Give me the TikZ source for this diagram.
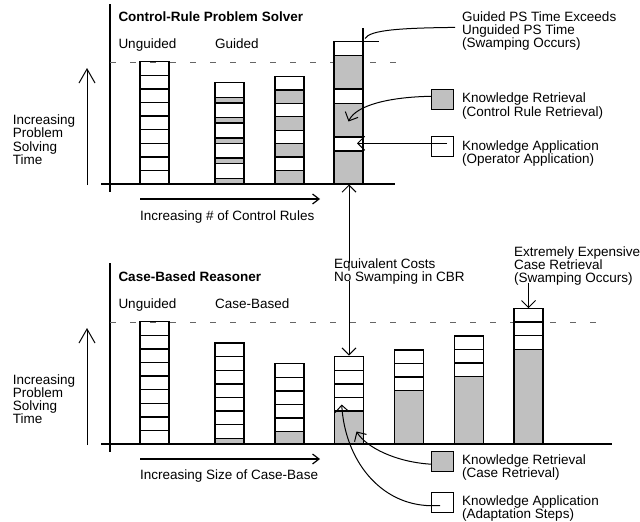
\documentclass[tikz,border=0pt]{standalone}
\usepackage{fontspec}
\setmainfont{Liberation Sans}
\usetikzlibrary{arrows.meta}
\definecolor{retrgray}{RGB}{192,192,192}
\tikzset{
  barline/.style={line width=1.4pt},
  axisline/.style={line width=1.3pt},
  guide/.style={line width=0.9pt, black!60, dash pattern=on 6pt off 14pt},
  connector/.style={line width=1pt},
  callout/.style={line width=1pt, -{Straight Barb[length=7pt,width=14pt]}},
  bigarrow/.style={line width=1pt, -{Straight Barb[length=14pt,width=16pt]}},
  sidearrow/.style={line width=1.2pt, -{Straight Barb[length=6.5pt,width=10pt]}},
  lbl/.style={anchor=base west, inner sep=0pt, align=left},
  keybox/.style={draw, line width=1.3pt, minimum width=21.5pt, minimum height=20pt, inner sep=0pt}
}
\begin{document}
\begin{tikzpicture}[x=1pt, y=-1pt, font=\fontsize{13.5}{13.3}\selectfont]
  \useasboundingbox (0,0) rectangle (640,522);

  % top panel: control-rule problem solver
  \draw[axisline] (110,4) -- (110,192);
  \draw[guide] (110,62) -- (410,62);
  \node[lbl, font=\fontsize{13.5}{13.3}\selectfont\bfseries] (crtitle) at (118.3,21.5) {Control-Rule Problem Solver};
  \node[lbl] (crunguided) at (118.3,48.5) {Unguided};
  \node[lbl] (crguided) at (215,48.5) {Guided};

  \foreach \k in {0,...,8}
    \draw[barline] (140,{184-13.6*\k}) rectangle ++(29,-13.6);
  \foreach \k in {0,...,4} {
    \draw[barline, fill=retrgray] (215,{184-20.27*\k}) rectangle ++(29,-5.6);
    \draw[barline] (215,{178.4-20.27*\k}) rectangle ++(29,-14.67);
  }
  \foreach \k in {0,...,3} {
    \draw[barline, fill=retrgray] (275,{184-26.9*\k}) rectangle ++(29,-13.45);
    \draw[barline] (275,{170.55-26.9*\k}) rectangle ++(29,-13.45);
  }
  \draw[barline, fill=retrgray] (334,184) rectangle (363,151);
  \draw[barline] (334,151) rectangle (363,137);
  \draw[barline, fill=retrgray] (334,137) rectangle (363,103.7);
  \draw[barline] (334,103.7) rectangle (363,89);
  \draw[barline, fill=retrgray] (334,89) rectangle (363,55.7);
  \draw[barline] (334,55.7) rectangle (363,41.7);
  \draw[barline] (363,28) -- (363,41.7) -- (379,41.7);
  \draw[axisline, line width=1.6pt] (101,184) -- (395,184);

  \coordinate (crcorner) at (365,38.5);
  \coordinate (crretr) at (348.5,121.5);
  \coordinate (crappl) at (357,143.3);
  \coordinate (crbase) at (349,184.5);

  \node[lbl] (crswamp) at (462,47.6) {Guided PS Time Exceeds\\Unguided PS Time\\(Swamping Occurs)};
  \node[keybox, fill=retrgray] (keyretr1) at (442.5,99.3) {};
  \node[lbl] (crretrtext) at (462,116) {Knowledge Retrieval\\(Control Rule Retrieval)};
  \node[keybox] (keyappl1) at (442.5,146.7) {};
  \node[lbl] (crappltext) at (462,163.3) {Knowledge Application\\(Operator Application)};

  \draw[connector] ([shift={(-7pt,3.4pt)}]crswamp.west) .. controls (400,28) and (370,30) .. (crcorner);
  \draw[callout] ([yshift=3pt]keyretr1.west) .. controls (390,97) and (356,105) .. (crretr);
  \draw[callout] ([shift={(4.5pt,3.4pt)}]keyappl1.center) -- (crappl);

  \draw[bigarrow] (87,185) -- (87,68);
  \node[lbl] (crtime) at (12.7,164.4) {Increasing\\Problem\\Solving\\Time};
  \draw[sidearrow] (140,199) -- (320,199);
  \node[lbl] (crrules) at (140,220) {Increasing \# of Control Rules};

  % shared callout between panels
  \node[lbl] (equiv) at (334,281.8) {Equivalent Costs\\No Swamping in CBR};
  \draw[callout, shorten <=-4.4pt] (equiv.north -| crbase) -- (crbase);

  % bottom panel: case-based reasoner
  \draw[axisline] (110,263) -- (110,452);
  \draw[guide] (110,322) -- (600,322);
  \node[lbl, font=\fontsize{13.5}{13.3}\selectfont\bfseries] (cbtitle) at (118.3,281) {Case-Based Reasoner};
  \node[lbl] (cbunguided) at (118.3,308.5) {Unguided};
  \node[lbl] (cbcase) at (215,308.5) {Case-Based};

  \foreach \x/\g/\n in {140/0/9, 215/5.7/7, 275/12.3/5, 334.5/33/4, 394.5/53.3/3, 454.5/67.3/3, 514/94.7/3} {
    \draw[barline, fill=retrgray] (\x,444) rectangle ++(29,-\g);
    \foreach \k in {1,...,\n}
      \draw[barline] (\x,{444-\g-13.6*(\k-1)}) rectangle ++(29,-13.6);
  }
  \draw[axisline, line width=1.6pt] (101,444) -- (612,444);

  \coordinate (cbtop) at (349,355.6);
  \coordinate (cbexp) at (528.5,308.2);
  \coordinate (cbretr) at (356.5,431.5);
  \coordinate (cbappl) at (341.7,404.5);

  \draw[callout, shorten <=-3.5pt] (equiv.south -| cbtop) -- (cbtop);
  \node[lbl] (cbexpensive) at (514,282.6) {Extremely Expensive\\Case Retrieval\\(Swamping Occurs)};
  \draw[callout, shorten <=-3pt] (cbexpensive.south -| cbexp) -- (cbexp);

  \node[keybox, fill=retrgray] (keyretr2) at (442.5,461.7) {};
  \node[lbl] (cbretrtext) at (462,477.8) {Knowledge Retrieval\\(Case Retrieval)};
  \node[keybox] (keyappl2) at (442.5,502.5) {};
  \node[lbl] (cbappltext) at (462,518.8) {Knowledge Application\\(Adaptation Steps)};

  \draw[callout] ([yshift=-2.5pt]keyretr2.west) .. controls (395,462) and (366,447) .. (cbretr);
  \draw[callout] ([shift={(-2.5pt,-3.2pt)}]keyappl2.center) -- ([yshift=-3.2pt]keyappl2.west)
    .. controls (380,505) and (345,460) .. (cbappl);

  \draw[bigarrow] (87,445) -- (87,328);
  \node[lbl] (cbtime) at (12.7,423.9) {Increasing\\Problem\\Solving\\Time};
  \draw[sidearrow] (140,459) -- (320,459);
  \node[lbl] (cbsize) at (140,479) {Increasing Size of Case-Base};
\end{tikzpicture}
\end{document}
